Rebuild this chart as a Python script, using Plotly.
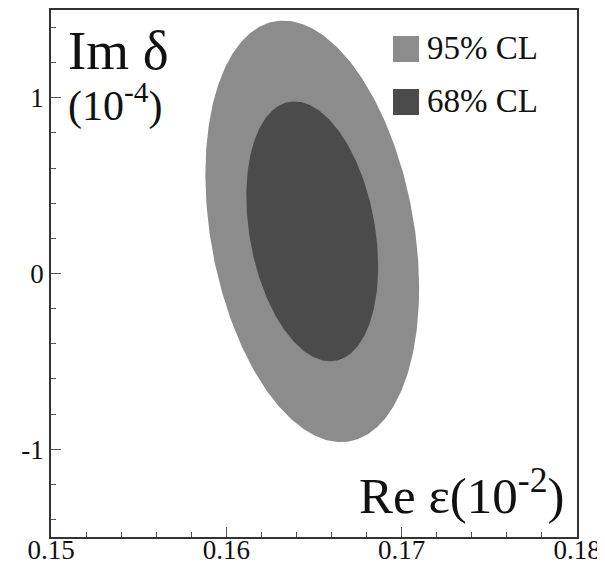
import numpy as np
import plotly.graph_objects as go

# Fit parameters
center_re_eps = 0.1649      # Re eps (1e-2)
center_im_delta = 0.24      # Im delta (1e-4)
sigma_re_eps = 0.00249
sigma_im_delta = 0.49
correlation = -0.27

cl_labels = ["95% CL", "68% CL"]
cl_levels = [0.95, 0.68]
cl_colors = ["#8c8c8c", "#4b4b4b"]

x_ticks = [0.15, 0.16, 0.17, 0.18]
y_ticks = [-1, 0, 1]

fig = go.Figure()
t = np.linspace(0, 2 * np.pi, 361)
for lab, lev, col in zip(cl_labels, cl_levels, cl_colors):
    k = np.sqrt(-2 * np.log(1 - lev))
    x = center_re_eps + k * sigma_re_eps * np.cos(t)
    y = center_im_delta + k * sigma_im_delta * (correlation * np.cos(t) + np.sqrt(1 - correlation**2) * np.sin(t))
    fig.add_trace(go.Scatter(x=x, y=y, mode="lines", fill="toself", fillcolor=col,
                             line=dict(width=0, color=col), name=lab, showlegend=False,
                             hoverinfo="skip"))

serif = "Liberation Serif, Times New Roman, serif"
axis_common = dict(showline=True, linecolor="#333333", linewidth=1.5, mirror=True,
                   ticks="inside", ticklen=10, tickwidth=1, tickcolor="#555555",
                   showgrid=False, zeroline=False, automargin=False,
                   tickfont=dict(family=serif, size=27, color="#111111"))
fig.update_xaxes(range=[0.15, 0.18], tickvals=x_ticks, ticktext=[f"{v:.2f}" for v in x_ticks],
                 minor=dict(ticks="inside", ticklen=5, dtick=0.002, tickcolor="#555555"),
                 ticklabelstandoff=-12, **axis_common)
fig.update_yaxes(range=[-1.5, 1.5], tickvals=y_ticks, ticktext=[str(v) for v in y_ticks],
                 minor=dict(ticks="inside", ticklen=5, dtick=0.2, tickcolor="#555555"),
                 ticklabelstandoff=0, **axis_common)

# Page has an 8px body margin, so the figure is offset by (8, 8) in the window.
OFF = 8
W, H = 526.0, 527.0
def px(xp):
    return (xp - 51) / W
def py(yp):
    return (537 - yp) / H

shapes = []
annots = []
for i, (lab, col) in enumerate(zip(cl_labels, cl_colors)):
    top = 36 + 53 * i
    shapes.append(dict(type="rect", xref="paper", yref="paper", x0=px(393), x1=px(419),
                       y0=py(top + 26), y1=py(top), fillcolor=col, line=dict(width=0)))
    annots.append(dict(xref="paper", yref="paper", x=px(425), y=py(top + 12), xanchor="left",
                       yanchor="middle", text=lab, showarrow=False,
                       font=dict(family=serif, size=33, color="#111111")))

annots.append(dict(xref="paper", yref="paper", x=px(66), y=py(18), xanchor="left", yanchor="top",
                   text="Im δ", showarrow=False, font=dict(family=serif, size=55, color="#111111")))
annots.append(dict(xref="paper", yref="paper", x=px(66), y=py(74), xanchor="left", yanchor="top",
                   text="(10<sup>-4</sup>)", showarrow=False,
                   font=dict(family=serif, size=42, color="#111111")))
annots.append(dict(xref="paper", yref="paper", x=px(567), y=py(526), xanchor="right", yanchor="bottom",
                   text="Re ε(10<sup>-2</sup>)", showarrow=False,
                   font=dict(family=serif, size=51, color="#111111")))

fig.update_layout(width=605 - OFF, height=567 - OFF,
                  margin=dict(l=51 - OFF, r=28, t=10 - OFF, b=30),
                  plot_bgcolor="white", paper_bgcolor="white",
                  shapes=shapes, annotations=annots, showlegend=False)

fig.write_html("out.html")
